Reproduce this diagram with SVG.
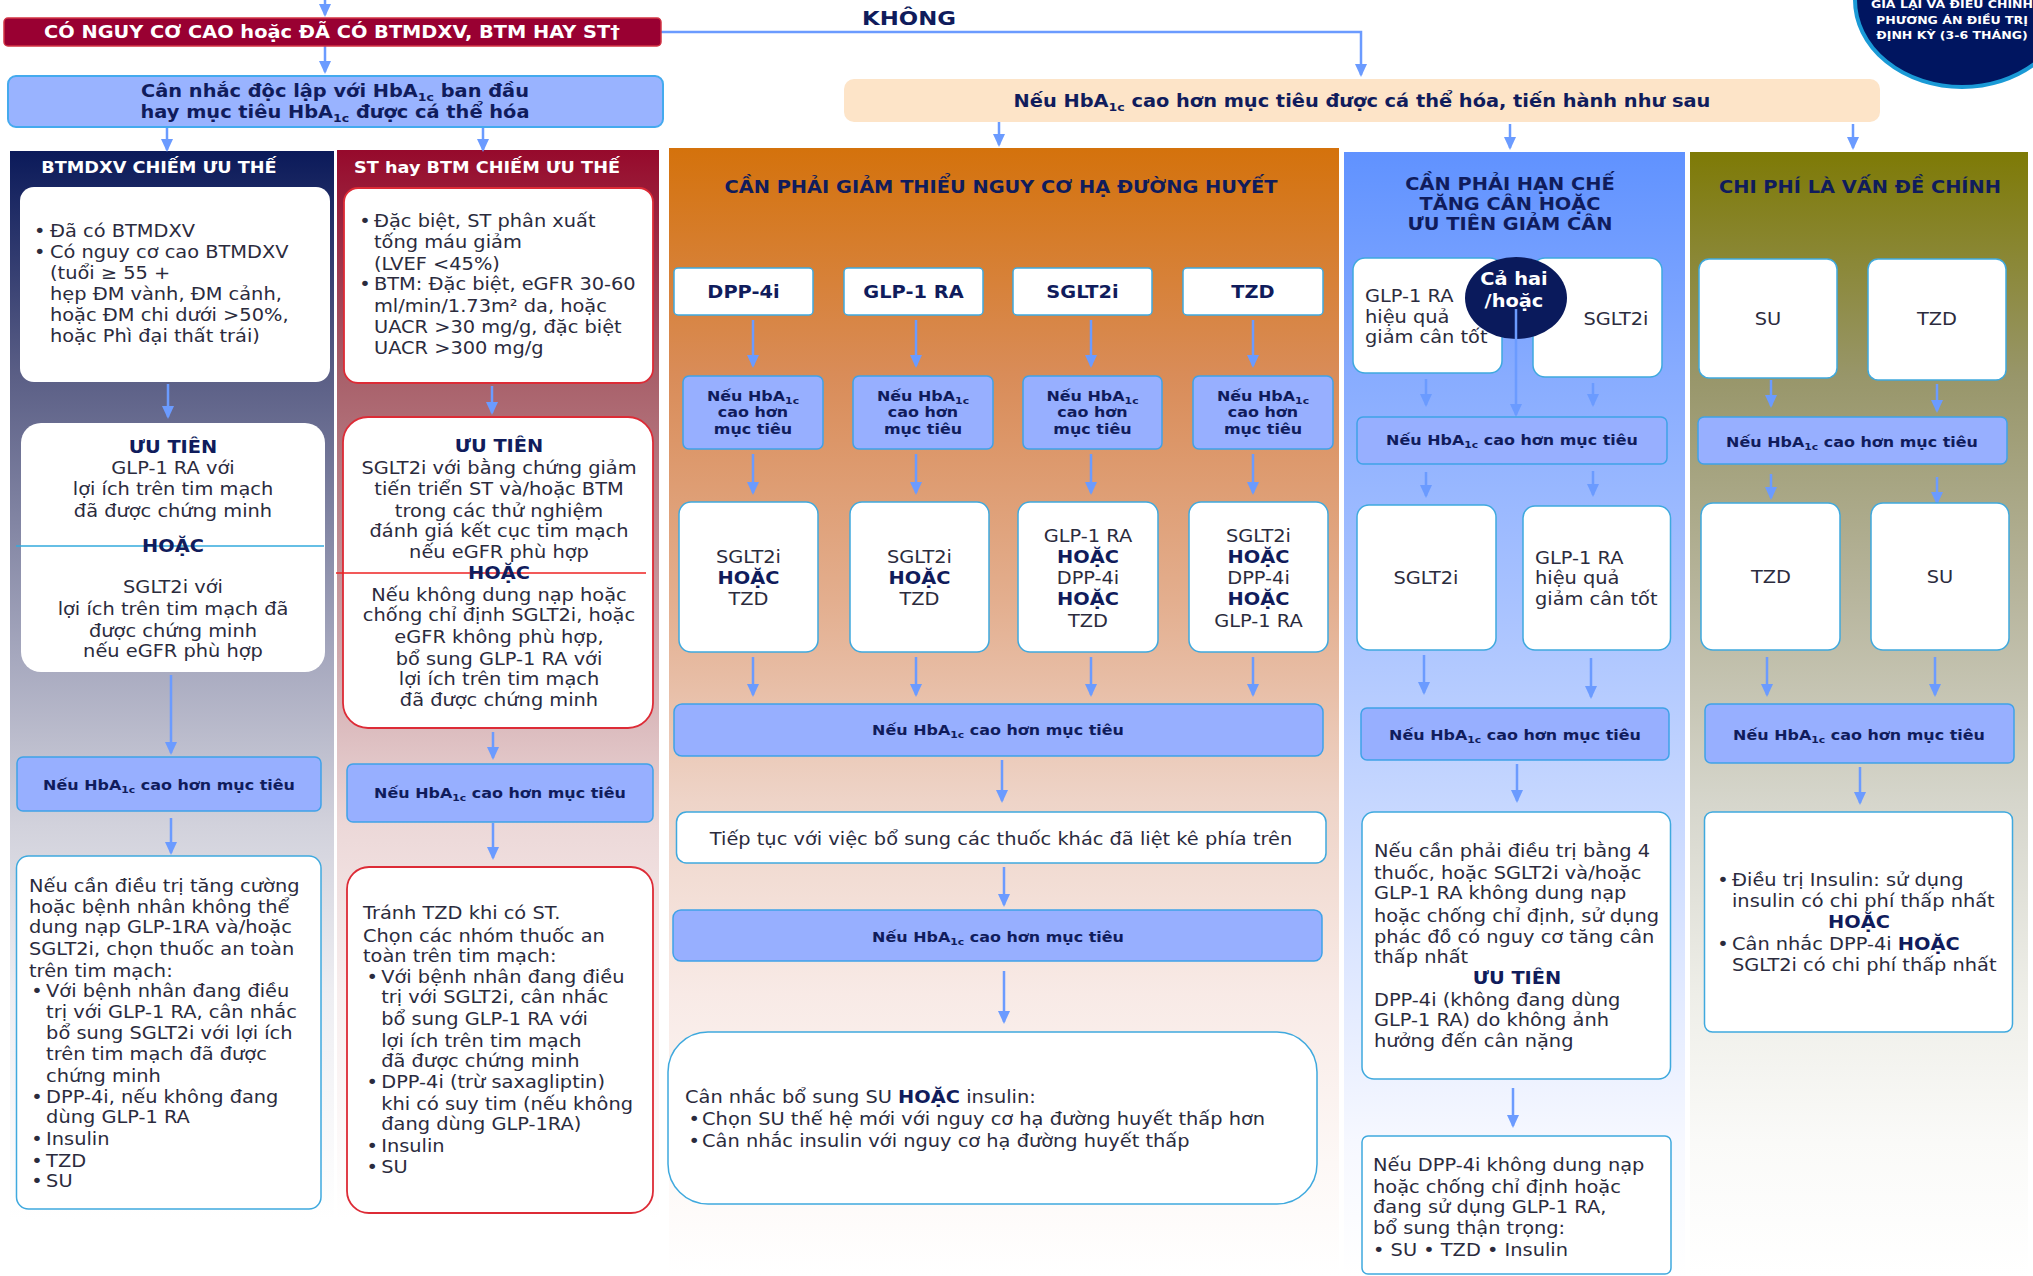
<svg xmlns="http://www.w3.org/2000/svg" width="2033" height="1276" viewBox="0 0 2033 1276">
<defs>
<style>
text{font-family:"DejaVu Sans",Verdana,sans-serif;font-size:17px;fill:#2b2b3d}
.c{text-anchor:middle}
.h{font-weight:bold;fill:#101c5c}
.w{font-weight:bold;fill:#ffffff}
.s14{font-size:14px}
.t15{font-size:15.5px}
.sub{font-size:11px}
.sub9{font-size:9.5px}
.bo{font-weight:bold;fill:#101c5c}
.wb{fill:#ffffff;stroke:#3fa9de;stroke-width:1.5}
.rb{fill:#ffffff;stroke:#dd2b36;stroke-width:1.8}
.bb{fill:#97afff;stroke:#3fa2e8;stroke-width:1.5}
.nb{fill:#ffffff}
.arr{stroke:#6b9bff;stroke-width:2.5;fill:none;marker-end:url(#ah)}
</style>
<marker id="ah" markerUnits="userSpaceOnUse" markerWidth="13" markerHeight="12" refX="11" refY="6" orient="auto">
<path d="M0,0 L13,6 L0,12 z" fill="#6b9bff"/>
</marker>
<linearGradient id="gNavy" x1="0" y1="0" x2="0" y2="1">
<stop offset="0" stop-color="#0b1a5a"/><stop offset="0.2" stop-color="#5b5f86"/><stop offset="0.45" stop-color="#a6a8be"/><stop offset="0.6" stop-color="#d2d2dc"/><stop offset="0.75" stop-color="#eeeef2"/><stop offset="0.95" stop-color="#ffffff"/>
</linearGradient>
<linearGradient id="gRed" x1="0" y1="0" x2="0" y2="1">
<stop offset="0" stop-color="#960a2c"/><stop offset="0.2" stop-color="#a8606a"/><stop offset="0.45" stop-color="#d0a8ac"/><stop offset="0.6" stop-color="#ecd8d8"/><stop offset="0.75" stop-color="#f8eeee"/><stop offset="0.95" stop-color="#ffffff"/>
</linearGradient>
<linearGradient id="gOr" x1="0" y1="0" x2="0" y2="1">
<stop offset="0" stop-color="#d4720c"/><stop offset="0.2" stop-color="#d98c58"/><stop offset="0.4" stop-color="#e3ae8e"/><stop offset="0.58" stop-color="#eed4c8"/><stop offset="0.75" stop-color="#f8eae6"/><stop offset="0.9" stop-color="#fdf8f6"/><stop offset="1" stop-color="#ffffff"/>
</linearGradient>
<linearGradient id="gBl" x1="0" y1="0" x2="0" y2="1">
<stop offset="0" stop-color="#6092ff"/><stop offset="0.2" stop-color="#88acff"/><stop offset="0.4" stop-color="#a8c2ff"/><stop offset="0.58" stop-color="#c6d7ff"/><stop offset="0.75" stop-color="#e2eaff"/><stop offset="0.88" stop-color="#f6f8ff"/><stop offset="1" stop-color="#ffffff"/>
</linearGradient>
<linearGradient id="gOl" x1="0" y1="0" x2="0" y2="1">
<stop offset="0" stop-color="#7e7a06"/><stop offset="0.2" stop-color="#98966a"/><stop offset="0.4" stop-color="#b8b69e"/><stop offset="0.58" stop-color="#d6d6cc"/><stop offset="0.75" stop-color="#eeeee8"/><stop offset="0.88" stop-color="#fafaf8"/><stop offset="1" stop-color="#ffffff"/>
</linearGradient>
</defs>
<rect x="0" y="0" width="2033" height="1276" fill="#ffffff"/>

<g id="panels">
<rect x="10" y="151" width="324" height="1125" fill="url(#gNavy)"/>
<rect x="337" y="150" width="322" height="1126" fill="url(#gRed)"/>
<rect x="669" y="148" width="670" height="1128" fill="url(#gOr)"/>
<rect x="1344" y="152" width="341" height="1124" fill="url(#gBl)"/>
<rect x="1690" y="152" width="338" height="1124" fill="url(#gOl)"/>
</g>

<g id="review-circle">
<ellipse cx="1962" cy="0" rx="107" ry="87" fill="#001560" stroke="#1a9ad6" stroke-width="4"/>
<g transform="matrix(1.14 0 0 1 -273.28 0)">
<text x="1952" y="8" class="w c" style="font-size:11px">GIÁ LẠI VÀ ĐIỀU CHỈNH</text>
<text x="1952" y="24" class="w c" style="font-size:11px">PHƯƠNG ÁN ĐIỀU TRỊ</text>
<text x="1952" y="39" class="w c" style="font-size:11px">ĐỊNH KỲ (3-6 THÁNG)</text>
</g>
</g>

<g id="connectors">
<line class="arr" x1="325" y1="0" x2="325" y2="15"/>
<line class="arr" x1="325" y1="46" x2="325" y2="72"/>
<path class="arr" d="M661,32 H1361 V75"/>
<line class="arr" x1="167" y1="127" x2="167" y2="150"/>
<line class="arr" x1="483" y1="127" x2="483" y2="150"/>
<line class="arr" x1="999" y1="122" x2="999" y2="145"/>
<line class="arr" x1="1510" y1="124" x2="1510" y2="148"/>
<line class="arr" x1="1853" y1="124" x2="1853" y2="148"/>
<line class="arr" x1="168" y1="384" x2="168" y2="417"/>
<line class="arr" x1="171" y1="675" x2="171" y2="753"/>
<line class="arr" x1="171" y1="818" x2="171" y2="853"/>
<line class="arr" x1="492" y1="386" x2="492" y2="413"/>
<line class="arr" x1="493" y1="732" x2="493" y2="758"/>
<line class="arr" x1="493" y1="823" x2="493" y2="858"/>
<line class="arr" x1="753" y1="320" x2="753" y2="366"/>
<line class="arr" x1="916" y1="320" x2="916" y2="366"/>
<line class="arr" x1="1091" y1="320" x2="1091" y2="366"/>
<line class="arr" x1="1253" y1="320" x2="1253" y2="366"/>
<line class="arr" x1="753" y1="454" x2="753" y2="493"/>
<line class="arr" x1="916" y1="454" x2="916" y2="493"/>
<line class="arr" x1="1091" y1="454" x2="1091" y2="493"/>
<line class="arr" x1="1253" y1="454" x2="1253" y2="493"/>
<line class="arr" x1="753" y1="657" x2="753" y2="695"/>
<line class="arr" x1="916" y1="657" x2="916" y2="695"/>
<line class="arr" x1="1091" y1="657" x2="1091" y2="695"/>
<line class="arr" x1="1253" y1="657" x2="1253" y2="695"/>
<line class="arr" x1="1002" y1="760" x2="1002" y2="801"/>
<line class="arr" x1="1004" y1="867" x2="1004" y2="905"/>
<line class="arr" x1="1004" y1="971" x2="1004" y2="1022"/>
<line class="arr" x1="1426" y1="379" x2="1426" y2="405"/>
<line class="arr" x1="1593" y1="383" x2="1593" y2="405"/>
<line class="arr" x1="1426" y1="472" x2="1426" y2="496"/>
<line class="arr" x1="1593" y1="471" x2="1593" y2="495"/>
<line class="arr" x1="1424" y1="655" x2="1424" y2="693"/>
<line class="arr" x1="1591" y1="658" x2="1591" y2="697"/>
<line class="arr" x1="1517" y1="764" x2="1517" y2="801"/>
<line class="arr" x1="1513" y1="1088" x2="1513" y2="1126"/>
<line class="arr" x1="1771" y1="380" x2="1771" y2="406"/>
<line class="arr" x1="1937" y1="384" x2="1937" y2="411"/>
<line class="arr" x1="1771" y1="474" x2="1771" y2="498"/>
<line class="arr" x1="1937" y1="477" x2="1937" y2="503"/>
<line class="arr" x1="1767" y1="657" x2="1767" y2="695"/>
<line class="arr" x1="1935" y1="657" x2="1935" y2="695"/>
<line class="arr" x1="1860" y1="767" x2="1860" y2="803"/>
</g>

<g id="n-risk">
<rect x="4" y="18" width="657" height="28" rx="4" fill="#990032" stroke="#d23444" stroke-width="1.5"/>
<g transform="matrix(1.14 0 0 1 -46.48 0)"><text x="332" y="38" class="w c">CÓ NGUY CƠ CAO hoặc ĐÃ CÓ BTMDXV, BTM HAY ST†</text></g>
</g>

<g id="n-khong">
<g transform="matrix(1.14 0 0 1 -127.26 0)"><text x="909" y="25" class="h c" style="font-size:20px">KHÔNG</text></g>
</g>

<g id="n-consider">
<rect x="8" y="76" width="655" height="51" rx="8" fill="#99b3ff" stroke="#44aaee" stroke-width="2"/>
<g transform="matrix(1.14 0 0 1 -46.9 0)">
<text x="335" y="97" class="h c">Cân nhắc độc lập với HbA<tspan class="sub" dy="4">1c</tspan><tspan dy="-4"> ban đầu</tspan></text>
<text x="335" y="118" class="h c">hay mục tiêu HbA<tspan class="sub" dy="4">1c</tspan><tspan dy="-4"> được cá thể hóa</tspan></text>
</g>
</g>

<g id="n-peach">
<rect x="844" y="79" width="1036" height="43" rx="10" fill="#fde4c8"/>
<g transform="matrix(1.14 0 0 1 -190.68 0)">
<text x="1362" y="107" class="h c">Nếu HbA<tspan class="sub" dy="4">1c</tspan><tspan dy="-4"> cao hơn mục tiêu được cá thể hóa, tiến hành như sau</tspan></text>
</g>
</g>

<!-- NAVY COLUMN -->
<g id="n-ascvd-title">
<g transform="matrix(1.14 0 0 1 -22.26 0)"><text x="159" y="173" class="w c t15">BTMDXV CHIẾM ƯU THẾ</text></g>
</g>
<g id="n-ascvd-criteria">
<rect x="20" y="187" width="310" height="195" rx="14" class="nb"/>
<g transform="matrix(1.14 0 0 1 -7 0)">
<text x="36" y="237">•</text><text x="50" y="237">Đã có BTMDXV</text>
<text x="36" y="258">•</text><text x="50" y="258">Có nguy cơ cao BTMDXV</text>
<text x="50" y="279">(tuổi ≥ 55 +</text>
<text x="50" y="300">hẹp ĐM vành, ĐM cảnh,</text>
<text x="50" y="321">hoặc ĐM chi dưới &gt;50%,</text>
<text x="50" y="342">hoặc Phì đại thất trái)</text>
</g>
</g>
<g id="n-ascvd-priority">
<rect x="21" y="423" width="304" height="249" rx="20" class="nb"/>
<line x1="16" y1="546" x2="324" y2="546" stroke="#33aadd" stroke-width="1.5"/>
<g transform="matrix(1.14 0 0 1 -24.22 0)">
<text x="173" y="453" class="h c">ƯU TIÊN</text>
<text x="173" y="474" class="c">GLP-1 RA với</text>
<text x="173" y="495" class="c">lợi ích trên tim mạch</text>
<text x="173" y="517" class="c">đã được chứng minh</text>
<text x="173" y="552" class="h c">HOẶC</text>
<text x="173" y="593" class="c">SGLT2i với</text>
<text x="173" y="615" class="c">lợi ích trên tim mạch đã</text>
<text x="173" y="637" class="c">được chứng minh</text>
<text x="173" y="657" class="c">nếu eGFR phù hợp</text>
</g>
</g>
<g id="n-ascvd-if">
<rect x="17" y="757" width="304" height="54" rx="6" class="bb"/>
<g transform="matrix(1.14 0 0 1 -23.66 0)"><text x="169" y="790" class="h c s14">Nếu HbA<tspan class="sub9" dy="3">1c</tspan><tspan dy="-3"> cao hơn mục tiêu</tspan></text></g>
</g>
<g id="n-ascvd-next">
<rect x="16.5" y="856" width="304.5" height="353" rx="12" class="wb"/>
<g transform="matrix(1.14 0 0 1 -4.06 0)">
<text x="29" y="892">Nếu cần điều trị tăng cường</text>
<text x="29" y="913">hoặc bệnh nhân không thể</text>
<text x="29" y="933">dung nạp GLP-1RA và/hoặc</text>
<text x="29" y="955">SGLT2i, chọn thuốc an toàn</text>
<text x="29" y="977">trên tim mạch:</text>
<text x="31" y="997">•</text><text x="44" y="997">Với bệnh nhân đang điều</text>
<text x="44" y="1018">trị với GLP-1 RA, cân nhắc</text>
<text x="44" y="1039">bổ sung SGLT2i với lợi ích</text>
<text x="44" y="1060">trên tim mạch đã được</text>
<text x="44" y="1082">chứng minh</text>
<text x="31" y="1103">•</text><text x="44" y="1103">DPP-4i, nếu không đang</text>
<text x="44" y="1123">dùng GLP-1 RA</text>
<text x="31" y="1145">•</text><text x="44" y="1145">Insulin</text>
<text x="31" y="1167">•</text><text x="44" y="1167">TZD</text>
<text x="31" y="1187">•</text><text x="44" y="1187">SU</text>
</g>
</g>

<!-- RED COLUMN -->
<g id="n-hf-title">
<g transform="matrix(1.14 0 0 1 -68.18 0)"><text x="487" y="173" class="w c t15">ST hay BTM CHIẾM ƯU THẾ</text></g>
</g>
<g id="n-hf-criteria">
<rect x="344" y="188" width="309" height="195" rx="14" class="rb"/>
<g transform="matrix(1.14 0 0 1 -52.36 0)">
<text x="361" y="227">•</text><text x="374" y="227">Đặc biệt, ST phân xuất</text>
<text x="374" y="248">tống máu giảm</text>
<text x="374" y="270">(LVEF &lt;45%)</text>
<text x="361" y="290">•</text><text x="374" y="290">BTM: Đặc biệt, eGFR 30-60</text>
<text x="374" y="312">ml/min/1.73m² da, hoặc</text>
<text x="374" y="333">UACR &gt;30 mg/g, đặc biệt</text>
<text x="374" y="354">UACR &gt;300 mg/g</text>
</g>
</g>
<g id="n-hf-priority">
<rect x="343" y="417" width="310" height="311" rx="25" class="rb"/>
<line x1="336" y1="573" x2="646" y2="573" stroke="#ee2222" stroke-width="1.5"/>
<g transform="matrix(1.14 0 0 1 -69.86 0)">
<text x="499" y="452" class="h c">ƯU TIÊN</text>
<text x="499" y="474" class="c">SGLT2i với bằng chứng giảm</text>
<text x="499" y="495" class="c">tiến triển ST và/hoặc BTM</text>
<text x="499" y="517" class="c">trong các thử nghiệm</text>
<text x="499" y="537" class="c">đánh giá kết cục tim mạch</text>
<text x="499" y="558" class="c">nếu eGFR phù hợp</text>
<text x="499" y="579" class="h c">HOẶC</text>
<text x="499" y="601" class="c">Nếu không dung nạp hoặc</text>
<text x="499" y="621" class="c">chống chỉ định SGLT2i, hoặc</text>
<text x="499" y="643" class="c">eGFR không phù hợp,</text>
<text x="499" y="665" class="c">bổ sung GLP-1 RA với</text>
<text x="499" y="685" class="c">lợi ích trên tim mạch</text>
<text x="499" y="706" class="c">đã được chứng minh</text>
</g>
</g>
<g id="n-hf-if">
<rect x="347" y="764" width="306" height="58" rx="6" class="bb"/>
<g transform="matrix(1.14 0 0 1 -70 0)"><text x="500" y="798" class="h c s14">Nếu HbA<tspan class="sub9" dy="3">1c</tspan><tspan dy="-3"> cao hơn mục tiêu</tspan></text></g>
</g>
<g id="n-hf-next">
<rect x="347" y="867" width="306" height="346" rx="22" class="rb"/>
<g transform="matrix(1.14 0 0 1 -50.82 0)">
<text x="363" y="919">Tránh TZD khi có ST.</text>
<text x="363" y="942">Chọn các nhóm thuốc an</text>
<text x="363" y="962">toàn trên tim mạch:</text>
<text x="366" y="983">•</text><text x="379" y="983">Với bệnh nhân đang điều</text>
<text x="379" y="1003">trị với SGLT2i, cân nhắc</text>
<text x="379" y="1025">bổ sung GLP-1 RA với</text>
<text x="379" y="1047">lợi ích trên tim mạch</text>
<text x="379" y="1067">đã được chứng minh</text>
<text x="366" y="1088">•</text><text x="379" y="1088">DPP-4i (trừ saxagliptin)</text>
<text x="379" y="1110">khi có suy tim (nếu không</text>
<text x="379" y="1130">đang dùng GLP-1RA)</text>
<text x="366" y="1152">•</text><text x="379" y="1152">Insulin</text>
<text x="366" y="1173">•</text><text x="379" y="1173">SU</text>
</g>
</g>

<!-- ORANGE COLUMN -->
<g id="n-hypo-title">
<g transform="matrix(1.14 0 0 1 -140.14 0)"><text x="1001" y="193" class="h c">CẦN PHẢI GIẢM THIỂU NGUY CƠ HẠ ĐƯỜNG HUYẾT</text></g>
</g>
<g id="n-hypo-dpp4">
<rect x="674" y="268" width="139" height="47" rx="4" class="wb"/>
<g transform="matrix(1.14 0 0 1 -104.09 0)"><text x="743.5" y="298" class="h c">DPP-4i</text></g>
</g>
<g id="n-hypo-glp1">
<rect x="844" y="268" width="139" height="47" rx="4" class="wb"/>
<g transform="matrix(1.14 0 0 1 -127.89 0)"><text x="913.5" y="298" class="h c">GLP-1 RA</text></g>
</g>
<g id="n-hypo-sglt2">
<rect x="1013" y="268" width="139" height="47" rx="4" class="wb"/>
<g transform="matrix(1.14 0 0 1 -151.55 0)"><text x="1082.5" y="298" class="h c">SGLT2i</text></g>
</g>
<g id="n-hypo-tzd">
<rect x="1183" y="268" width="140" height="47" rx="4" class="wb"/>
<g transform="matrix(1.14 0 0 1 -175.42 0)"><text x="1253" y="298" class="h c">TZD</text></g>
</g>
<g id="n-hypo-if1">
<rect x="683" y="376" width="140" height="73" rx="6" class="bb"/>
<g transform="matrix(1.14 0 0 1 -105.42 0)">
<text x="753" y="401" class="h c s14">Nếu HbA<tspan class="sub9" dy="3">1c</tspan></text>
<text x="753" y="417" class="h c s14">cao hơn</text>
<text x="753" y="434" class="h c s14">mục tiêu</text>
</g>
</g>
<g id="n-hypo-if2">
<rect x="853" y="376" width="140" height="73" rx="6" class="bb"/>
<g transform="matrix(1.14 0 0 1 -129.22 0)">
<text x="923" y="401" class="h c s14">Nếu HbA<tspan class="sub9" dy="3">1c</tspan></text>
<text x="923" y="417" class="h c s14">cao hơn</text>
<text x="923" y="434" class="h c s14">mục tiêu</text>
</g>
</g>
<g id="n-hypo-if3">
<rect x="1023" y="376" width="139" height="73" rx="6" class="bb"/>
<g transform="matrix(1.14 0 0 1 -152.95 0)">
<text x="1092.5" y="401" class="h c s14">Nếu HbA<tspan class="sub9" dy="3">1c</tspan></text>
<text x="1092.5" y="417" class="h c s14">cao hơn</text>
<text x="1092.5" y="434" class="h c s14">mục tiêu</text>
</g>
</g>
<g id="n-hypo-if4">
<rect x="1193" y="376" width="140" height="73" rx="6" class="bb"/>
<g transform="matrix(1.14 0 0 1 -176.82 0)">
<text x="1263" y="401" class="h c s14">Nếu HbA<tspan class="sub9" dy="3">1c</tspan></text>
<text x="1263" y="417" class="h c s14">cao hơn</text>
<text x="1263" y="434" class="h c s14">mục tiêu</text>
</g>
</g>
<g id="n-hypo-add1">
<rect x="679" y="502" width="139" height="150" rx="12" class="wb"/>
<g transform="matrix(1.14 0 0 1 -104.79 0)">
<text x="748.5" y="563" class="c">SGLT2i</text>
<text x="748.5" y="584" class="h c">HOẶC</text>
<text x="748.5" y="605" class="c">TZD</text>
</g>
</g>
<g id="n-hypo-add2">
<rect x="850" y="502" width="139" height="150" rx="12" class="wb"/>
<g transform="matrix(1.14 0 0 1 -128.73 0)">
<text x="919.5" y="563" class="c">SGLT2i</text>
<text x="919.5" y="584" class="h c">HOẶC</text>
<text x="919.5" y="605" class="c">TZD</text>
</g>
</g>
<g id="n-hypo-add3">
<rect x="1018" y="502" width="140" height="150" rx="12" class="wb"/>
<g transform="matrix(1.14 0 0 1 -152.32 0)">
<text x="1088" y="542" class="c">GLP-1 RA</text>
<text x="1088" y="563" class="h c">HOẶC</text>
<text x="1088" y="584" class="c">DPP-4i</text>
<text x="1088" y="605" class="h c">HOẶC</text>
<text x="1088" y="627" class="c">TZD</text>
</g>
</g>
<g id="n-hypo-add4">
<rect x="1189" y="502" width="139" height="150" rx="12" class="wb"/>
<g transform="matrix(1.14 0 0 1 -176.19 0)">
<text x="1258.5" y="542" class="c">SGLT2i</text>
<text x="1258.5" y="563" class="h c">HOẶC</text>
<text x="1258.5" y="584" class="c">DPP-4i</text>
<text x="1258.5" y="605" class="h c">HOẶC</text>
<text x="1258.5" y="627" class="c">GLP-1 RA</text>
</g>
</g>
<g id="n-hypo-if5">
<rect x="674" y="704" width="649" height="52" rx="8" class="bb"/>
<g transform="matrix(1.14 0 0 1 -139.72 0)"><text x="998" y="735" class="h c s14">Nếu HbA<tspan class="sub9" dy="3">1c</tspan><tspan dy="-3"> cao hơn mục tiêu</tspan></text></g>
</g>
<g id="n-hypo-continue">
<rect x="676.5" y="812" width="649.5" height="51" rx="10" class="wb"/>
<g transform="matrix(1.14 0 0 1 -140.14 0)"><text x="1001" y="845" class="c">Tiếp tục với việc bổ sung các thuốc khác đã liệt kê phía trên</text></g>
</g>
<g id="n-hypo-if6">
<rect x="673" y="910" width="649" height="51" rx="8" class="bb"/>
<g transform="matrix(1.14 0 0 1 -139.72 0)"><text x="998" y="942" class="h c s14">Nếu HbA<tspan class="sub9" dy="3">1c</tspan><tspan dy="-3"> cao hơn mục tiêu</tspan></text></g>
</g>
<g id="n-hypo-su-insulin">
<rect x="668" y="1032" width="649" height="172" rx="40" class="wb"/>
<g transform="matrix(1.14 0 0 1 -95.9 0)">
<text x="685" y="1103">Cân nhắc bổ sung SU <tspan class="bo">HOẶC</tspan> insulin:</text>
<text x="688" y="1125">•</text><text x="700" y="1125">Chọn SU thế hệ mới với nguy cơ hạ đường huyết thấp hơn</text>
<text x="688" y="1147">•</text><text x="700" y="1147">Cân nhắc insulin với nguy cơ hạ đường huyết thấp</text>
</g>
</g>

<!-- BLUE COLUMN -->
<g id="n-wt-title">
<g transform="matrix(1.14 0 0 1 -211.4 0)">
<text x="1510" y="190" class="h c">CẦN PHẢI HẠN CHẾ</text>
<text x="1510" y="210" class="h c">TĂNG CÂN HOẶC</text>
<text x="1510" y="230" class="h c">ƯU TIÊN GIẢM CÂN</text>
</g>
</g>
<g id="n-wt-glp1">
<rect x="1353" y="258" width="149" height="115" rx="12" class="wb"/>
<g transform="matrix(1.14 0 0 1 -191.1 0)">
<text x="1365" y="302">GLP-1 RA</text>
<text x="1365" y="323">hiệu quả</text>
<text x="1365" y="343">giảm cân tốt</text>
</g>
</g>
<g id="n-wt-sglt2">
<rect x="1533" y="258" width="129" height="119" rx="12" class="wb"/>
<g transform="matrix(1.14 0 0 1 -226.24 0)"><text x="1616" y="325" class="c">SGLT2i</text></g>
</g>
<g id="n-wt-both">
<ellipse cx="1516" cy="298" rx="51" ry="41" fill="#0a1a5c"/>
<g transform="matrix(1.14 0 0 1 -211.96 0)">
<text x="1514" y="285" class="w c">Cả hai</text>
<text x="1514" y="307" class="w c">/hoặc</text>
</g>
</g>
<g id="connector-both">
<line class="arr" x1="1516" y1="309" x2="1516" y2="415"/>
</g>
<g id="n-wt-if1">
<rect x="1357" y="417" width="310" height="47" rx="6" class="bb"/>
<g transform="matrix(1.14 0 0 1 -211.68 0)"><text x="1512" y="445" class="h c s14">Nếu HbA<tspan class="sub9" dy="3">1c</tspan><tspan dy="-3"> cao hơn mục tiêu</tspan></text></g>
</g>
<g id="n-wt-add-sglt2">
<rect x="1357" y="505" width="139" height="145" rx="12" class="wb"/>
<g transform="matrix(1.14 0 0 1 -199.64 0)"><text x="1426" y="584" class="c">SGLT2i</text></g>
</g>
<g id="n-wt-add-glp1">
<rect x="1523" y="506" width="147.5" height="144" rx="12" class="wb"/>
<g transform="matrix(1.14 0 0 1 -214.9 0)">
<text x="1535" y="564">GLP-1 RA</text>
<text x="1535" y="584">hiệu quả</text>
<text x="1535" y="605">giảm cân tốt</text>
</g>
</g>
<g id="n-wt-if2">
<rect x="1361" y="708" width="308" height="52" rx="6" class="bb"/>
<g transform="matrix(1.14 0 0 1 -212.1 0)"><text x="1515" y="740" class="h c s14">Nếu HbA<tspan class="sub9" dy="3">1c</tspan><tspan dy="-3"> cao hơn mục tiêu</tspan></text></g>
</g>
<g id="n-wt-four">
<rect x="1362" y="812" width="308.5" height="267" rx="12" class="wb"/>
<g transform="matrix(1.14 0 0 1 -192.36 0)">
<text x="1374" y="857">Nếu cần phải điều trị bằng 4</text>
<text x="1374" y="879">thuốc, hoặc SGLT2i và/hoặc</text>
<text x="1374" y="899">GLP-1 RA không dung nạp</text>
<text x="1374" y="922">hoặc chống chỉ định, sử dụng</text>
<text x="1374" y="943">phác đồ có nguy cơ tăng cân</text>
<text x="1374" y="963">thấp nhất</text>
<text x="1374" y="1006">DPP-4i (không đang dùng</text>
<text x="1374" y="1026">GLP-1 RA) do không ảnh</text>
<text x="1374" y="1047">hưởng đến cân nặng</text>
</g>
<g transform="matrix(1.14 0 0 1 -212.38 0)"><text x="1517" y="984" class="h c">ƯU TIÊN</text></g>
</g>
<g id="n-wt-dpp4-alt">
<rect x="1362" y="1136" width="309" height="138" rx="6" class="wb"/>
<g transform="matrix(1.14 0 0 1 -192.22 0)">
<text x="1373" y="1171">Nếu DPP-4i không dung nạp</text>
<text x="1373" y="1193">hoặc chống chỉ định hoặc</text>
<text x="1373" y="1213">đang sử dụng GLP-1 RA,</text>
<text x="1373" y="1234">bổ sung thận trọng:</text>
<text x="1373" y="1256">• SU • TZD • Insulin</text>
</g>
</g>

<!-- OLIVE COLUMN -->
<g id="n-cost-title">
<g transform="matrix(1.14 0 0 1 -260.4 0)"><text x="1860" y="193" class="h c">CHI PHÍ LÀ VẤN ĐỀ CHÍNH</text></g>
</g>
<g id="n-cost-su">
<rect x="1699" y="259" width="138" height="119" rx="10" class="wb"/>
<g transform="matrix(1.14 0 0 1 -247.52 0)"><text x="1768" y="325" class="c">SU</text></g>
</g>
<g id="n-cost-tzd">
<rect x="1868" y="259" width="138" height="121" rx="10" class="wb"/>
<g transform="matrix(1.14 0 0 1 -271.18 0)"><text x="1937" y="325" class="c">TZD</text></g>
</g>
<g id="n-cost-if1">
<rect x="1698" y="417" width="309" height="47" rx="6" class="bb"/>
<g transform="matrix(1.14 0 0 1 -259.28 0)"><text x="1852" y="447" class="h c s14">Nếu HbA<tspan class="sub9" dy="3">1c</tspan><tspan dy="-3"> cao hơn mục tiêu</tspan></text></g>
</g>
<g id="n-cost-add-tzd">
<rect x="1701" y="503" width="139" height="147" rx="12" class="wb"/>
<g transform="matrix(1.14 0 0 1 -247.94 0)"><text x="1771" y="583" class="c">TZD</text></g>
</g>
<g id="n-cost-add-su">
<rect x="1871" y="503" width="138" height="147" rx="12" class="wb"/>
<g transform="matrix(1.14 0 0 1 -271.6 0)"><text x="1940" y="583" class="c">SU</text></g>
</g>
<g id="n-cost-if2">
<rect x="1705" y="704" width="309" height="59" rx="6" class="bb"/>
<g transform="matrix(1.14 0 0 1 -260.26 0)"><text x="1859" y="740" class="h c s14">Nếu HbA<tspan class="sub9" dy="3">1c</tspan><tspan dy="-3"> cao hơn mục tiêu</tspan></text></g>
</g>
<g id="n-cost-insulin">
<rect x="1704.5" y="812" width="308" height="220" rx="8" class="wb"/>
<g transform="matrix(1.14 0 0 1 -242.48 0)">
<text x="1719" y="886">•</text><text x="1732" y="886">Điều trị Insulin: sử dụng</text>
<text x="1732" y="907">insulin có chi phí thấp nhất</text>
<text x="1719" y="950">•</text><text x="1732" y="950">Cân nhắc DPP-4i <tspan class="bo">HOẶC</tspan></text>
<text x="1732" y="971">SGLT2i có chi phí thấp nhất</text>
</g>
<g transform="matrix(1.14 0 0 1 -260.26 0)"><text x="1859" y="928" class="h c">HOẶC</text></g>
</g>
</svg>
